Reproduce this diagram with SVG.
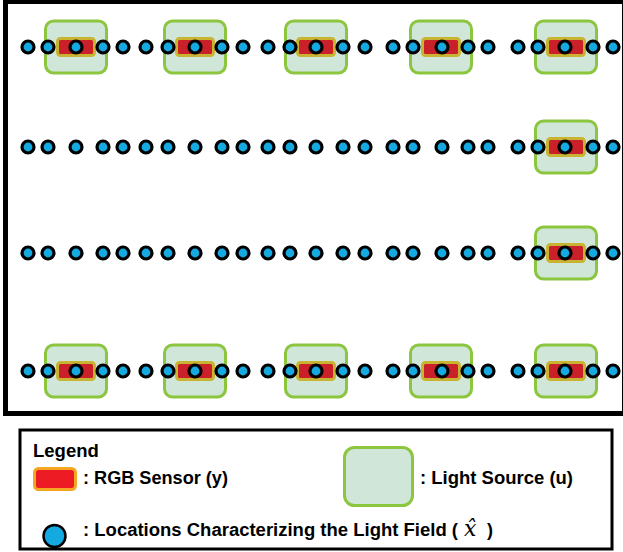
<svg xmlns="http://www.w3.org/2000/svg" xmlns:xlink="http://www.w3.org/1999/xlink" width="623" height="552" viewBox="0 0 623 552">
  <style>
    .frame { fill: #ffffff; stroke: #000000; stroke-width: 5; }
    .legend-box { fill: #ffffff; stroke: #000000; stroke-width: 3; }
    .source { fill: #cfe6d8; stroke: #8cc63f; stroke-width: 3; }
    .sensor { fill: #c9202a; stroke: #c9b431; stroke-width: 3; }
    .dot { fill: #14a9e0; stroke: #000000; stroke-width: 3.2; }
    .legend-sensor { fill: #ed1c24; stroke: #f5a623; stroke-width: 3; }
    .legend-dot { fill: #14a9e0; stroke: #000000; stroke-width: 2.5; }
    .label { font-family: "Liberation Sans", Arial, sans-serif; font-weight: bold; font-size: 18px; fill: #000000; }
    .title { font-size: 18.5px; }
    .math { font-family: "DejaVu Serif", "Liberation Serif", serif; font-style: italic; font-weight: normal; font-size: 22px; }
  </style>
  <defs>
    <!-- one row of sample locations, shared by all four rows -->
    <g id="dotRow">
      <circle class="dot" cx="28" cy="0" r="6"/>
      <circle class="dot" cx="48" cy="0" r="6"/>
      <circle class="dot" cx="76" cy="0" r="6"/>
      <circle class="dot" cx="103" cy="0" r="6"/>
      <circle class="dot" cx="123" cy="0" r="6"/>
      <circle class="dot" cx="146" cy="0" r="6"/>
      <circle class="dot" cx="168" cy="0" r="6"/>
      <circle class="dot" cx="195" cy="0" r="6"/>
      <circle class="dot" cx="222" cy="0" r="6"/>
      <circle class="dot" cx="243" cy="0" r="6"/>
      <circle class="dot" cx="268" cy="0" r="6"/>
      <circle class="dot" cx="290" cy="0" r="6"/>
      <circle class="dot" cx="316" cy="0" r="6"/>
      <circle class="dot" cx="343" cy="0" r="6"/>
      <circle class="dot" cx="365" cy="0" r="6"/>
      <circle class="dot" cx="393" cy="0" r="6"/>
      <circle class="dot" cx="413" cy="0" r="6"/>
      <circle class="dot" cx="442" cy="0" r="6"/>
      <circle class="dot" cx="468" cy="0" r="6"/>
      <circle class="dot" cx="488" cy="0" r="6"/>
      <circle class="dot" cx="518" cy="0" r="6"/>
      <circle class="dot" cx="538" cy="0" r="6"/>
      <circle class="dot" cx="565" cy="0" r="6"/>
      <circle class="dot" cx="593" cy="0" r="6"/>
      <circle class="dot" cx="613" cy="0" r="6"/>
    </g>
    <!-- light source with its RGB sensor, centred on the origin -->
    <g id="unit">
      <rect class="source" x="-30.5" y="-26" width="61" height="52" rx="8"/>
      <rect class="sensor" x="-18.5" y="-8.5" width="37" height="17" rx="3"/>
    </g>
  </defs>

  <!-- room outline -->
  <rect id="room" class="frame" x="5.5" y="1.5" width="619" height="412"/>

  <!-- row 1 -->
  <g id="row1">
    <g id="unit-1-1"><use xlink:href="#unit" x="76" y="47"/></g>
    <g id="unit-1-2"><use xlink:href="#unit" x="195" y="47"/></g>
    <g id="unit-1-3"><use xlink:href="#unit" x="316" y="47"/></g>
    <g id="unit-1-4"><use xlink:href="#unit" x="441" y="47"/></g>
    <g id="unit-1-5"><use xlink:href="#unit" x="566" y="47"/></g>
    <use xlink:href="#dotRow" x="0" y="47"/>
  </g>

  <!-- row 2 -->
  <g id="row2">
    <g id="unit-2-5"><use xlink:href="#unit" x="566" y="147"/></g>
    <use xlink:href="#dotRow" x="0" y="147"/>
  </g>

  <!-- row 3 -->
  <g id="row3">
    <g id="unit-3-5"><use xlink:href="#unit" x="566" y="253"/></g>
    <use xlink:href="#dotRow" x="0" y="253"/>
  </g>

  <!-- row 4 -->
  <g id="row4">
    <g id="unit-4-1"><use xlink:href="#unit" x="76" y="371"/></g>
    <g id="unit-4-2"><use xlink:href="#unit" x="195" y="371"/></g>
    <g id="unit-4-3"><use xlink:href="#unit" x="316" y="371"/></g>
    <g id="unit-4-4"><use xlink:href="#unit" x="441" y="371"/></g>
    <g id="unit-4-5"><use xlink:href="#unit" x="566" y="371"/></g>
    <use xlink:href="#dotRow" x="0" y="371"/>
  </g>

  <!-- legend -->
  <g id="legend">
    <rect class="legend-box" x="20" y="430" width="592" height="119"/>
    <text class="label title" x="33" y="457">Legend</text>
    <g id="legend-sensor">
      <rect class="legend-sensor" x="34.5" y="468.5" width="41" height="21" rx="4"/>
      <text class="label" x="83" y="484" textLength="145" lengthAdjust="spacingAndGlyphs">: RGB Sensor (y)</text>
    </g>
    <g id="legend-source">
      <rect class="source" x="344.5" y="447.5" width="68" height="58" rx="10"/>
      <text class="label" x="420" y="484" textLength="153" lengthAdjust="spacingAndGlyphs">: Light Source (u)</text>
    </g>
    <g id="legend-location">
      <circle class="legend-dot" cx="54.5" cy="536" r="11"/>
      <text class="label" x="83" y="536" textLength="375" lengthAdjust="spacingAndGlyphs">: Locations Characterizing the Light Field (</text>
      <text class="math" x="464" y="536">x̂</text>
      <text class="label" x="487" y="536">)</text>
    </g>
  </g>
</svg>
